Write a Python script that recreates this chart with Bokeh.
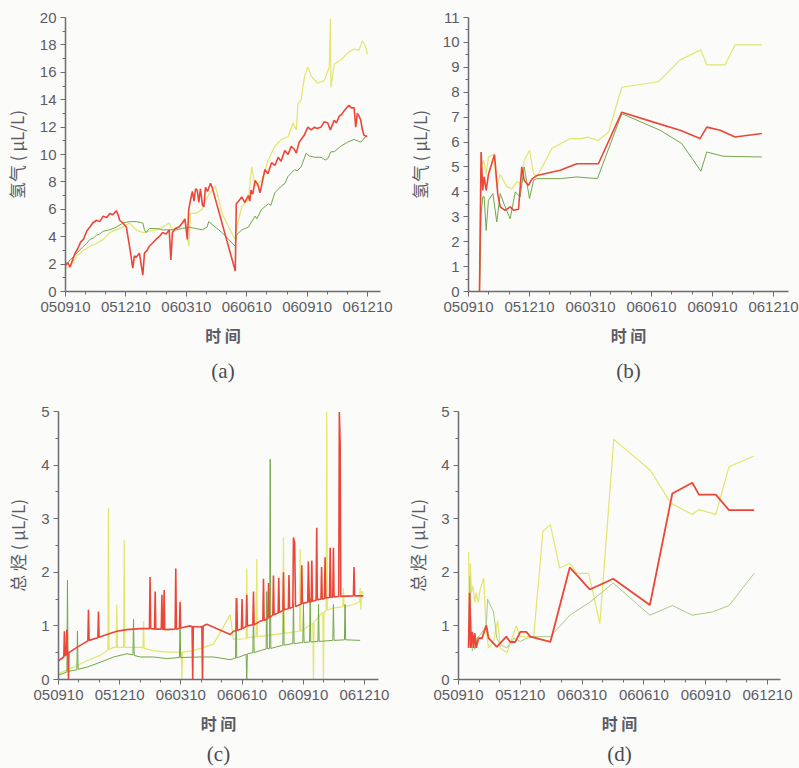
from bokeh.plotting import figure
from bokeh.layouts import column, row
from bokeh.models import FixedTicker, Title, Range1d
from bokeh.embed import file_html
from bokeh.resources import INLINE

# x axis: months counted from 050910 (0) to 061210 (15)
month_ticks = [0, 3, 6, 9, 12, 15]
month_labels = ["050910", "051210", "060310", "060610", "060910", "061210"]
month_minor = list(range(0, 16))

# ---------------- (a) hydrogen, continuous monitoring ----------------
a_red = [(0, 1.9), (0.1, 2.1), (0.23, 1.8), (0.35, 2.3), (0.48, 2.8), (0.6, 3.1), (0.75, 3.6), (0.89, 3.8),
         (1.05, 4.4), (1.21, 4.7), (1.35, 5.0), (1.54, 5.2), (1.7, 5.1), (1.87, 5.5), (2.05, 5.4), (2.2, 5.7),
         (2.35, 5.6), (2.52, 5.9), (2.61, 5.6), (2.69, 5.2), (2.85, 5.0), (3.02, 4.7), (3.18, 3.3), (3.34, 1.7),
         (3.42, 2.6), (3.51, 2.5), (3.67, 2.8), (3.84, 1.2), (3.92, 2.8), (4.05, 3.0), (4.16, 3.3), (4.3, 3.5),
         (4.49, 3.8), (4.65, 4.0), (4.82, 4.3), (5.0, 4.2), (5.15, 4.5), (5.23, 2.3), (5.31, 4.3), (5.45, 4.6),
         (5.64, 4.7), (5.8, 5.0), (5.93, 5.3), (6.05, 3.8), (6.12, 6.0), (6.21, 6.7), (6.3, 7.3), (6.38, 6.6),
         (6.46, 7.5), (6.54, 7.4), (6.62, 6.5), (6.7, 7.5), (6.8, 6.3), (6.87, 6.2), (6.95, 7.6), (7.05, 7.3),
         (7.2, 7.9), (7.28, 7.6), (8.43, 1.5), (8.48, 6.4), (8.6, 6.6), (8.75, 6.9), (8.9, 6.5), (9.08, 7.0),
         (9.15, 6.6), (9.21, 7.4), (9.3, 7.1), (9.41, 8.1), (9.55, 7.8), (9.66, 7.2), (9.9, 8.9), (10.05, 8.6),
         (10.23, 9.4), (10.4, 9.2), (10.56, 9.8), (10.7, 9.5), (10.89, 10.3), (11.05, 10.0), (11.21, 10.6),
         (11.35, 10.4), (11.46, 10.1), (11.6, 10.9), (11.7, 11.1), (11.85, 11.4), (12.03, 12.0), (12.2, 11.8),
         (12.36, 12.0), (12.5, 11.9), (12.69, 12.0), (12.85, 12.4), (13.02, 12.3), (13.15, 11.8), (13.34, 12.5),
         (13.45, 12.3), (13.59, 12.8), (13.7, 12.9), (13.84, 13.2), (13.95, 13.4), (14.08, 13.6), (14.2, 13.4),
         (14.33, 13.4), (14.41, 12.0), (14.49, 13.0), (14.58, 12.8), (14.66, 12.5), (14.74, 11.8), (14.82, 11.4),
         (14.98, 11.3)]
a_green = [(0, 1.9), (0.23, 2.3), (0.56, 2.8), (0.89, 3.3), (1.05, 3.5), (1.21, 3.8), (1.38, 3.9), (1.54, 4.1),
           (1.7, 4.2), (1.87, 4.4), (2.2, 4.5), (2.52, 4.7), (2.85, 5.0), (3.18, 5.1), (3.51, 5.1), (3.84, 5.0),
           (3.92, 4.5), (4.0, 4.3), (4.16, 4.6), (4.49, 4.6), (4.82, 4.5), (5.15, 4.5), (5.48, 4.5), (5.8, 4.6),
           (6.13, 4.7), (6.46, 4.6), (6.79, 4.5), (7.03, 4.7), (7.11, 5.1), (7.44, 4.7), (7.77, 4.3), (8.1, 3.8),
           (8.43, 3.3), (8.48, 4.1), (8.75, 4.5), (9.08, 4.7), (9.41, 5.5), (9.5, 5.3), (9.74, 6.0), (10.07, 6.4),
           (10.2, 6.3), (10.39, 7.2), (10.72, 7.7), (10.9, 7.9), (11.05, 8.4), (11.38, 8.9), (11.5, 8.8),
           (11.7, 9.1), (11.95, 10.1), (12.1, 9.9), (12.36, 9.8), (12.69, 9.8), (12.9, 9.6), (13.02, 9.7),
           (13.18, 10.2), (13.34, 10.2), (13.67, 10.6), (14.0, 10.9), (14.33, 11.1), (14.66, 10.9), (14.9, 11.3),
           (14.98, 11.4)]
a_yellow = [(0, 1.7), (0.23, 1.8), (0.56, 2.6), (0.89, 3.0), (1.21, 3.3), (1.54, 3.5), (1.87, 3.8), (2.2, 4.3),
            (2.52, 4.5), (2.85, 4.7), (3.18, 5.0), (3.51, 4.5), (3.84, 4.3), (4.16, 4.4), (4.49, 4.5), (4.82, 4.7),
            (5.15, 5.0), (5.31, 4.5), (5.64, 4.7), (5.93, 5.2), (6.13, 3.3), (6.21, 5.7), (6.46, 5.7), (6.79, 6.0),
            (6.95, 6.7), (7.28, 7.4), (7.44, 7.7), (7.61, 6.7), (7.77, 5.7), (8.1, 4.7), (8.43, 3.8), (8.48, 4.5),
            (8.75, 6.2), (9.08, 6.7), (9.25, 9.1), (9.41, 7.7), (9.74, 8.1), (10.07, 9.6), (10.39, 10.6),
            (10.72, 11.1), (11.05, 11.3), (11.3, 12.3), (11.46, 11.8), (11.54, 13.7), (11.7, 14.0), (11.87, 15.7),
            (12.03, 16.4), (12.2, 15.7), (12.52, 15.2), (12.85, 15.4), (13.1, 16.4), (13.15, 19.9), (13.18, 14.9),
            (13.34, 16.6), (13.67, 16.9), (14.0, 17.4), (14.33, 17.7), (14.57, 17.6), (14.74, 18.3), (14.9, 17.9),
            (14.98, 17.3)]

# ---------------- (b) hydrogen, offline samples ----------------
b_red = [(0.54, 0), (0.62, 5.6), (0.7, 4.06), (0.77, 4.6), (0.87, 4.06), (0.98, 4.7), (1.28, 5.5), (1.44, 3.9),
         (1.56, 3.4), (1.8, 3.26), (2.05, 3.4), (2.21, 3.26), (2.46, 3.3), (2.62, 5.0), (2.74, 4.46), (2.95, 4.26),
         (3.11, 4.5), (3.36, 4.66), (4.51, 4.87), (5.33, 5.13), (6.39, 5.13), (7.54, 7.2), (9.1, 6.8),
         (10.41, 6.47), (11.39, 6.14), (11.72, 6.6), (12.38, 6.47), (13.11, 6.2), (14.43, 6.34)]
b_green = [(0.54, 0), (0.62, 3.12), (0.7, 3.8), (0.77, 3.8), (0.87, 2.45), (0.98, 3.66), (1.2, 3.93), (1.39, 2.79),
           (1.56, 3.93), (1.8, 3.4), (2.05, 2.92), (2.3, 4.0), (2.54, 3.8), (2.74, 5.0), (3.0, 3.73), (3.2, 4.46),
           (3.36, 4.53), (4.51, 4.53), (5.33, 4.6), (6.34, 4.53), (7.54, 7.14), (9.43, 6.47), (10.49, 5.94),
           (11.43, 4.83), (11.72, 5.6), (12.54, 5.43), (14.43, 5.4)]
b_yellow = [(0.54, 0), (0.62, 5.0), (0.74, 5.27), (0.87, 4.7), (0.98, 5.4), (1.23, 5.5), (1.39, 4.2), (1.56, 4.7),
            (1.89, 4.2), (2.13, 4.13), (2.38, 4.4), (2.57, 4.33), (2.74, 5.27), (3.0, 5.67), (3.2, 4.73),
            (3.36, 4.6), (4.1, 5.74), (5.0, 6.14), (5.57, 6.14), (5.85, 6.2), (6.39, 6.07), (6.89, 6.4),
            (7.54, 8.2), (9.34, 8.42), (10.41, 9.3), (11.43, 9.7), (11.72, 9.1), (12.62, 9.1), (13.11, 9.9),
            (14.43, 9.9)]

# ---------------- (c) total hydrocarbons, continuous monitoring ----------------
c_red = [(0, 0.35), (0.26, 0.42), (0.29, 0.9), (0.32, 0.44), (0.38, 0.46), (0.41, 0.93), (0.44, 0.47),
         (0.47, 0.48), (0.49, 0.0), (0.51, 0.5), (0.9, 0.6), (1.44, 0.72), (1.47, 1.3), (1.5, 0.73), (1.93, 0.78),
         (1.96, 1.27), (1.99, 0.79), (2.37, 0.84), (2.86, 0.9), (3.35, 0.93), (4.0, 0.95), (4.46, 0.95),
         (4.49, 1.91), (4.52, 0.95), (4.71, 0.94), (4.74, 1.64), (4.77, 0.94), (5.04, 0.94), (5.07, 1.58),
         (5.1, 0.94), (5.15, 0.93), (5.18, 1.67), (5.21, 0.93), (5.72, 0.94), (5.75, 2.07), (5.78, 0.94),
         (5.93, 0.95), (5.96, 1.45), (5.99, 0.96), (6.45, 1.0), (6.55, 0.99), (6.58, 0.0), (6.61, 0.99),
         (6.94, 0.98), (7.03, 0.99), (7.06, 0.0), (7.09, 1.0), (7.27, 1.03), (8.42, 0.84), (8.58, 0.9),
         (8.71, 0.91), (8.74, 1.52), (8.77, 0.92), (8.97, 0.94), (9.0, 1.5), (9.03, 0.95), (9.2, 0.99),
         (9.23, 1.58), (9.26, 1.0), (9.53, 1.02), (9.56, 1.64), (9.59, 1.02), (9.89, 1.09), (10.02, 1.1),
         (10.05, 1.88), (10.08, 1.1), (10.27, 1.14), (10.3, 1.8), (10.33, 1.15), (10.51, 1.2), (10.54, 1.94),
         (10.57, 1.21), (10.77, 1.24), (10.8, 1.9), (10.83, 1.25), (11.0, 1.29), (11.03, 2.0), (11.06, 1.3),
         (11.27, 1.32), (11.3, 1.95), (11.33, 1.33), (11.49, 1.35), (11.52, 2.65), (11.58, 2.55), (11.62, 1.36),
         (11.9, 1.41), (11.93, 2.13), (11.96, 1.42), (12.22, 1.44), (12.25, 2.2), (12.3, 1.44), (12.39, 1.45),
         (12.42, 2.22), (12.45, 1.46), (12.63, 1.48), (12.66, 2.83), (12.69, 1.49), (12.87, 1.5), (12.9, 2.1),
         (12.93, 1.5), (13.04, 1.51), (13.07, 2.28), (13.1, 1.52), (13.29, 1.53), (13.32, 2.46), (13.36, 1.53),
         (13.45, 1.54), (13.48, 2.46), (13.51, 1.54), (13.74, 1.55), (13.77, 4.99), (13.81, 4.39), (13.84, 1.55),
         (14.46, 1.56), (14.49, 2.1), (14.52, 1.56), (14.95, 1.56)]
c_yellow = [(0, 0.11), (0.74, 0.23), (1.39, 0.35), (2.04, 0.45), (2.42, 0.55), (2.45, 3.2), (2.48, 0.56),
            (2.7, 0.6), (2.83, 0.6), (2.86, 1.4), (2.89, 0.6), (3.19, 0.6), (3.22, 2.6), (3.25, 0.6), (4.0, 0.6),
            (4.14, 0.59), (4.17, 1.09), (4.2, 0.58), (4.66, 0.54), (5.31, 0.51), (6.02, 0.51), (6.05, 0.0),
            (6.08, 0.51), (6.62, 0.54), (7.11, 0.6), (7.6, 0.66), (8.42, 1.21), (8.58, 0.75), (9.2, 0.76),
            (9.23, 2.07), (9.26, 0.78), (9.69, 0.8), (9.72, 2.25), (9.75, 0.8), (10.21, 0.82), (11.0, 0.86),
            (11.03, 2.65), (11.06, 0.86), (11.82, 0.9), (11.85, 2.43), (11.88, 0.9), (12.47, 1.05), (12.5, 0.0),
            (12.53, 1.07), (12.96, 1.25), (12.99, 0.0), (13.02, 1.26), (13.12, 1.28), (13.15, 5.0), (13.18, 1.3),
            (13.48, 1.33), (13.94, 1.36), (13.97, 1.7), (14.0, 1.36), (14.46, 1.4), (14.76, 1.45), (14.79, 1.7),
            (14.82, 1.3), (14.87, 1.65), (14.95, 1.6)]
c_green = [(0, 0.08), (0.41, 0.14), (0.44, 1.85), (0.47, 0.15), (0.74, 0.17), (0.9, 0.18), (0.93, 0.9),
           (0.96, 0.19), (1.39, 0.23), (2.04, 0.32), (2.7, 0.42), (3.35, 0.48), (3.65, 0.46), (3.68, 1.12),
           (3.71, 0.45), (4.0, 0.42), (4.66, 0.42), (5.31, 0.39), (5.93, 0.41), (5.96, 1.03), (5.99, 0.41),
           (6.94, 0.42), (7.6, 0.42), (8.42, 0.37), (8.68, 0.4), (8.71, 1.52), (8.74, 0.4), (9.2, 0.47),
           (9.23, 0.0), (9.26, 0.48), (9.53, 0.5), (9.56, 1.4), (9.59, 0.5), (9.89, 0.54), (10.18, 0.57),
           (10.21, 1.64), (10.24, 0.57), (10.35, 0.58), (10.38, 4.11), (10.41, 0.58), (11.0, 0.64), (11.03, 1.52),
           (11.06, 0.64), (11.49, 0.67), (11.52, 1.45), (11.55, 0.67), (11.98, 0.69), (12.01, 1.4), (12.04, 0.69),
           (12.31, 0.7), (12.34, 1.52), (12.37, 0.7), (12.72, 0.71), (12.75, 1.4), (12.78, 0.71), (13.45, 0.73),
           (13.48, 1.4), (13.51, 0.73), (14.02, 0.74), (14.05, 1.4), (14.08, 0.74), (14.79, 0.73)]

# ---------------- (d) total hydrocarbons, offline samples ----------------
d_red = [(0.49, 0.59), (0.54, 1.62), (0.6, 0.59), (0.67, 0.89), (0.73, 0.59), (0.79, 0.86), (0.86, 0.59),
         (0.97, 0.77), (1.14, 0.77), (1.35, 1.01), (1.46, 0.77), (1.86, 0.61), (2.32, 0.8), (2.51, 0.7),
         (2.76, 0.7), (3.0, 0.89), (3.29, 0.89), (3.49, 0.8), (4.46, 0.7), (5.4, 2.09), (6.37, 1.68), (7.51, 1.88),
         (9.29, 1.39), (10.38, 3.47), (11.35, 3.67), (11.67, 3.45), (12.49, 3.45), (13.13, 3.16), (14.35, 3.16)]
d_yellow = [(0.49, 2.38), (0.54, 0.65), (0.57, 2.17), (0.63, 1.62), (0.7, 1.74), (0.79, 1.44), (0.86, 1.62),
            (0.96, 1.44), (1.05, 1.68), (1.22, 1.89), (1.35, 0.89), (1.46, 0.59), (1.7, 0.71), (1.9, 1.1),
            (2.03, 0.59), (2.35, 0.5), (2.8, 1.0), (3.0, 0.8), (3.32, 0.8), (3.65, 0.8), (4.1, 2.77), (4.46, 2.89),
            (4.91, 2.08), (5.4, 2.17), (5.76, 1.98), (6.32, 1.98), (6.86, 1.04), (7.54, 4.48), (9.32, 3.9),
            (10.3, 3.29), (11.35, 3.08), (11.67, 3.17), (12.49, 3.08), (13.13, 3.97), (14.35, 4.17)]
d_green = [(0.49, 0.71), (0.54, 1.92), (0.6, 1.13), (0.67, 0.53), (0.73, 0.65), (0.79, 0.56), (0.89, 0.77),
           (1.05, 0.83), (1.35, 1.0), (1.41, 1.5), (1.7, 1.26), (1.86, 0.77), (2.03, 0.65), (2.35, 0.59),
           (2.68, 0.77), (3.0, 0.71), (3.32, 0.77), (3.65, 0.8), (4.46, 0.8), (5.4, 1.2), (6.37, 1.44),
           (7.51, 1.8), (9.29, 1.2), (10.38, 1.38), (11.35, 1.2), (12.33, 1.26), (13.13, 1.38), (14.35, 1.98)]

BG = "#fbfbf9"
AXIS = "#6c6c76"
TXT = "#5b5b66"
RED = "#ec4638"
YEL = "#e2e66c"
GRN = "#74a648"
GRN_PALE = "#a9c98a"


def xy(pairs):
    return [p[0] for p in pairs], [p[1] for p in pairs]


def panel(w, h, left, right, top, bottom, xmax, ymax, ymajor, yminor, ylabel, tag,
          series, tag_standoff):
    p = figure(width=w, height=h, x_range=Range1d(0, xmax), y_range=Range1d(0, ymax),
               output_backend="svg", toolbar_location=None,
               min_border_left=left, min_border_right=right,
               min_border_top=top, min_border_bottom=bottom,
               background_fill_color=BG, border_fill_color=BG, outline_line_color=None)
    p.xgrid.visible = False
    p.ygrid.visible = False
    for pairs, color, lw in series:
        xs, ys = xy(pairs)
        p.line(xs, ys, line_color=color, line_width=lw)
    p.xaxis.ticker = FixedTicker(ticks=month_ticks, minor_ticks=month_minor)
    p.xaxis.major_label_overrides = {t: lab for t, lab in zip(month_ticks, month_labels)}
    p.yaxis.ticker = FixedTicker(ticks=ymajor, minor_ticks=yminor)
    for ax in (p.xaxis[0], p.yaxis[0]):
        ax.axis_line_color = AXIS
        ax.axis_line_width = 1.5
        ax.major_tick_line_color = AXIS
        ax.minor_tick_line_color = AXIS
        ax.major_tick_in = 0
        ax.major_tick_out = 5
        ax.minor_tick_in = 0
        ax.minor_tick_out = 3
        ax.major_label_text_font = "Liberation Sans"
        ax.major_label_text_font_size = "15px"
        ax.major_label_text_color = TXT
        ax.axis_label_text_font = "Noto Sans CJK SC"
        ax.axis_label_text_font_size = "16px"
        ax.axis_label_text_color = TXT
    p.xaxis.axis_label_text_font_style = "bold"
    p.yaxis.axis_label_text_font_style = "normal"
    p.yaxis.axis_label_text_font_size = "17px"
    p.xaxis.major_label_standoff = 5
    p.yaxis.major_label_standoff = 4
    p.xaxis.axis_label = "时 间"
    p.xaxis.axis_label_standoff = 8
    p.yaxis.axis_label = ylabel
    p.yaxis.axis_label_standoff = 8
    p.add_layout(Title(text=tag, align="center", text_font="Liberation Serif",
                       text_font_size="21px", text_font_style="normal", text_color="#4a4a50",
                       standoff=tag_standoff), "below")
    return p


H2_LABEL = "氢气 ( μL/L)"
HC_LABEL = "总 烃 ( μL/L)"

pa = panel(400, 390, 62, 20, 17, 98, 15.64, 20, list(range(0, 21, 2)), list(range(1, 20, 2)),
           H2_LABEL, "(a)",
           [(a_yellow, YEL, 1.2), (a_green, GRN, 1.0), (a_red, RED, 1.6)], 14)
pb = panel(399, 390, 68, 11, 17, 99, 15.74, 11, list(range(0, 12)), [i + 0.5 for i in range(11)],
           H2_LABEL, "(b)",
           [(b_yellow, YEL, 1.2), (b_green, GRN, 1.0), (b_red, RED, 1.6)], 14)
pc = panel(400, 378, 58, 22, 17, 89, 15.69, 5, list(range(0, 6)), [i + 0.5 for i in range(5)],
           HC_LABEL, "(c)",
           [(c_yellow, YEL, 1.2), (c_green, GRN, 1.0), (c_red, RED, 1.6)], 4)
pd = panel(399, 378, 58, 19, 21, 82, 15.63, 5, list(range(0, 6)), [i + 0.5 for i in range(5)],
           HC_LABEL, "(d)",
           [(d_yellow, YEL, 1.2), (d_green, GRN_PALE, 1.0), (d_red, RED, 1.8)], 4)

layout = column(row(pa, pb), row(pc, pd))
layout.styles = {"background-color": BG}
open("out.html", "w").write(file_html(layout, INLINE))
